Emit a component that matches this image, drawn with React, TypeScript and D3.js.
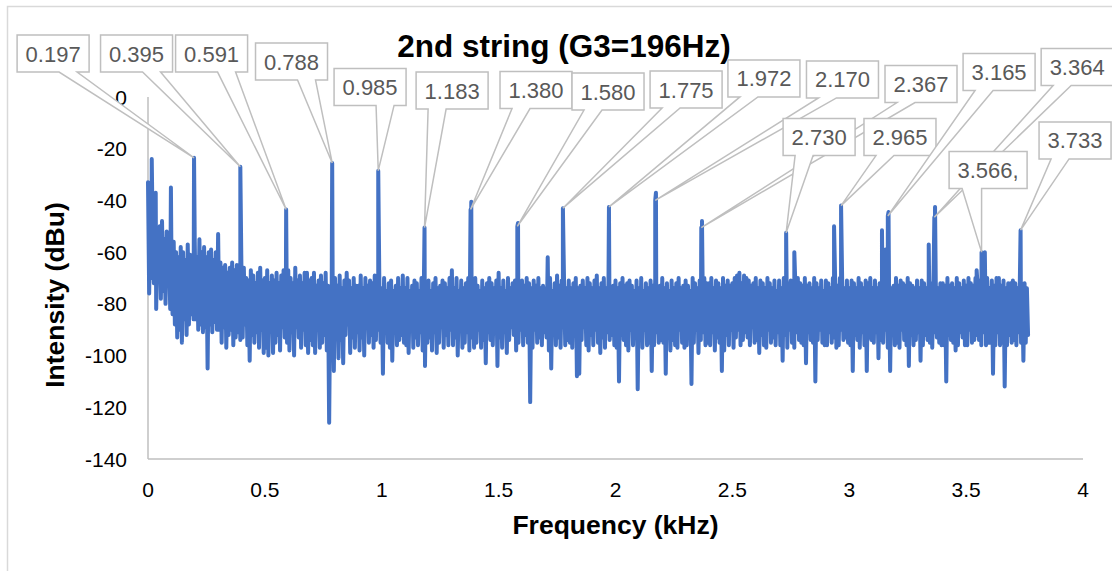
import React from 'react';
import * as d3 from 'd3';

// spectrum: one upper and one lower sample per 0.01 kHz bin,
// upper at the bin start, lower half a bin later
const binKHz = 0.01;
const upperDb = [
  -33, -40, -52, -45, -55, -50, -48, -55, -52, -58,
  -58, -56, -60, -62, -58, -60, -63, -57, -61, -62,
  -56, -62, -55, -60, -58, -62, -60, -59, -63, -60,
  -53, -64, -66, -65, -68, -66, -64, -67, -65, -68,
  -69, -66, -70, -71, -67, -69, -72, -68, -66, -71,
  -70, -67, -72, -69, -71, -68, -72, -69, -67, -72,
  -67, -70, -72, -66, -71, -69, -72, -68, -68, -71,
  -70, -68, -73, -71, -69, -72, -68, -73, -74, -72,
  -70, -73, -69, -74, -71, -68, -71, -74, -70, -73,
  -73, -69, -74, -70, -73, -71, -72, -69, -71, -74,
  -74, -70, -75, -72, -71, -75, -73, -70, -74, -69,
  -74, -70, -75, -73, -71, -72, -75, -70, -74, -72,
  -71, -75, -72, -70, -74, -73, -71, -72, -74, -70,
  -67, -74, -70, -75, -71, -74, -72, -70, -73, -74,
  -70, -73, -75, -71, -74, -72, -70, -72, -74, -71,
  -68, -74, -71, -75, -70, -74, -72, -71, -73, -74,
  -71, -73, -70, -72, -74, -71, -73, -70, -74, -73,
  -74, -62, -70, -75, -72, -69, -73, -71, -72, -74,
  -71, -74, -72, -70, -74, -73, -71, -74, -70, -72,
  -74, -71, -69, -74, -72, -70, -74, -71, -74, -73,
  -71, -74, -72, -70, -73, -72, -71, -73, -75, -71,
  -74, -70, -75, -72, -74, -71, -73, -70, -74, -73,
  -70, -74, -72, -75, -71, -74, -72, -70, -74, -73,
  -71, -73, -75, -70, -72, -74, -71, -74, -70, -72,
  -72, -70, -74, -71, -72, -74, -70, -73, -71, -73,
  -72, -70, -69, -68, -72, -69, -70, -71, -73, -72,
  -70, -74, -71, -72, -74, -70, -72, -74, -71, -75,
  -71, -74, -70, -74, -72, -71, -72, -74, -70, -72,
  -73, -70, -73, -72, -74, -70, -72, -74, -71, -75,
  -71, -72, -74, -70, -72, -73, -70, -73, -74, -71,
  -74, -71, -72, -74, -70, -72, -74, -71, -72, -70,
  -74, -71, -74, -72, -70, -74, -72, -71, -74, -73,
  -70, -73, -71, -72, -73, -70, -72, -73, -74, -71,
  -74, -71, -72, -74, -70, -72, -74, -71, -74, -72,
  -72, -73, -70, -73, -72, -74, -70, -72, -74, -71,
  -73, -70, -72, -73, -70, -74, -71, -71, -72, -70,
  -74, -71, -73, -70, -70, -73, -71, -74, -72, -72,
  -71, -72, -74, -70, -75, -72, -74,
];
const lowerDb = [
  -76, -70, -72, -82, -65, -78, -75, -80, -70, -82,
  -84, -88, -93, -90, -95, -86, -92, -88, -84, -86,
  -86, -90, -88, -91, -89, -105, -88, -91, -87, -90,
  -90, -95, -89, -97, -92, -90, -96, -93, -91, -94,
  -93, -88, -96, -102, -92, -95, -91, -97, -90, -99,
  -97, -100, -90, -99, -95, -92, -98, -89, -93, -95,
  -98, -91, -100, -89, -93, -97, -90, -96, -99, -94,
  -96, -99, -89, -97, -95, -92, -98, -126, -95, -106,
  -90, -101, -94, -103, -92, -88, -99, -93, -97, -91,
  -98, -93, -100, -89, -95, -92, -97, -94, -90, -95,
  -107, -91, -95, -97, -102, -89, -96, -94, -92, -95,
  -96, -99, -90, -97, -93, -96, -91, -98, -104, -95,
  -93, -98, -91, -99, -95, -89, -97, -92, -96, -90,
  -96, -93, -100, -89, -97, -95, -91, -98, -93, -97,
  -95, -90, -97, -94, -103, -91, -94, -96, -89, -104,
  -93, -97, -91, -99, -94, -89, -92, -98, -95, -90,
  -96, -92, -95, -118, -97, -90, -95, -93, -96, -91,
  -93, -98, -105, -90, -96, -93, -97, -89, -96, -94,
  -95, -97, -90, -108, -107, -94, -89, -96, -98, -92,
  -96, -90, -95, -99, -93, -97, -91, -94, -92, -96,
  -97, -110, -92, -94, -96, -98, -90, -96, -93, -113,
  -94, -97, -90, -96, -95, -106, -96, -91, -95, -94,
  -95, -107, -91, -98, -94, -96, -97, -90, -95, -97,
  -96, -92, -111, -95, -90, -99, -94, -91, -96, -95,
  -96, -91, -98, -93, -95, -106, -98, -92, -96, -90,
  -97, -93, -90, -96, -94, -91, -93, -96, -89, -95,
  -94, -99, -92, -96, -97, -90, -95, -93, -96, -91,
  -96, -102, -92, -97, -90, -95, -97, -91, -94, -95,
  -96, -103, -91, -94, -95, -110, -94, -90, -95, -96,
  -96, -91, -95, -93, -97, -96, -90, -94, -93, -95,
  -96, -106, -92, -94, -97, -91, -96, -106, -93, -94,
  -95, -91, -101, -94, -95, -90, -97, -106, -92, -96,
  -95, -97, -90, -94, -96, -104, -92, -96, -94, -91,
  -102, -96, -92, -94, -95, -97, -91, -93, -95, -96,
  -96, -110, -92, -94, -95, -98, -96, -91, -93, -96,
  -96, -90, -95, -94, -92, -94, -96, -91, -96, -95,
  -95, -107, -96, -91, -96, -95, -112, -96, -92, -95,
  -94, -96, -91, -95, -102, -95, -92,
];

// unlabelled spikes
const extraPeakKHz = [0.016, 0.033, 0.098, 1.383, 1.583, 2.173, 2.37, 2.765, 2.935, 3.14, 3.155, 3.168, 3.34, 3.367, 3.545, 3.58];
const extraPeakDb = [-24, -37, -35, -40.5, -48.7, -37, -48, -60, -50, -51.5, -59, -44.5, -57, -42.5, -67, -60];

// labelled harmonics
const harmonicKHz = [0.197, 0.395, 0.591, 0.788, 0.985, 1.183, 1.38, 1.58, 1.775, 1.972, 2.17, 2.367, 2.73, 2.965, 3.165, 3.364, 3.566, 3.733];
const harmonicDb = [-23.5, -27, -43.5, -25.5, -28.5, -50.5, -43.5, -50, -43, -42.5, -40, -50.5, -52.5, -42, -46, -46.5, -60, -51.5];
const harmonicLabels = ['0.197', '0.395', '0.591', '0.788', '0.985', '1.183', '1.380', '1.580', '1.775', '1.972', '2.170', '2.367', '2.730', '2.965', '3.165', '3.364', '3.566,', '3.733'];
// where each callout box sits (centre, in axis units)
const labelKHz = [-0.406, -0.049, 0.272, 0.614, 0.95, 1.301, 1.66, 1.968, 2.302, 2.635, 2.971, 3.307, 2.871, 3.217, 3.641, 3.975, 3.594, 3.966];
const labelDb = [16.8, 16.8, 16.8, 13.7, 3.9, 2.5, 2.7, 2.1, 2.9, 7.2, 6.8, 5.0, -15.5, -15.5, 9.7, 11.6, -28.2, -16.8];

const xTicks = [0, 0.5, 1, 1.5, 2, 2.5, 3, 3.5, 4];
const yTicks = [0, -20, -40, -60, -80, -100, -120, -140];

const W = 1112, H = 571;
const FONT = 'Liberation Sans, Arial, sans-serif';

// Excel style wedge callout (rectangle with a pointer)
function calloutPath(cx: number, cy: number, w: number, h: number, tx: number, ty: number) {
  const l = cx - w / 2, t = cy - h / 2, r = cx + w / 2, b = cy + h / 2;
  const dx = tx - cx, dy = ty - cy;
  const dq = dx * h / w;
  const vertical = Math.abs(dy) - Math.abs(dq) > 0;
  if (vertical) {
    const x1 = l + w * (dx > 0 ? 7 : 2) / 12, x2 = l + w * (dx > 0 ? 10 : 5) / 12;
    if (dy > 0) return `M${l},${t}H${r}V${b}H${x2}L${tx},${ty}L${x1},${b}H${l}Z`;
    return `M${l},${t}H${x1}L${tx},${ty}L${x2},${t}H${r}V${b}H${l}Z`;
  }
  const y1 = t + h * (dy > 0 ? 7 : 2) / 12, y2 = t + h * (dy > 0 ? 10 : 5) / 12;
  if (dx > 0) return `M${l},${t}H${r}V${y1}L${tx},${ty}L${r},${y2}V${b}H${l}Z`;
  return `M${l},${t}H${r}V${b}H${l}V${y2}L${tx},${ty}L${l},${y1}Z`;
}

export default function App() {
  const x = d3.scaleLinear().domain([0, 4]).range([148, 1083]);
  const y = d3.scaleLinear().domain([-140, 0]).range([459, 97]);

  const pts: [number, number][] = [];
  upperDb.forEach((v, i) => {
    pts.push([i * binKHz, v]);
    pts.push([i * binKHz + binKHz / 2, lowerDb[i]]);
  });
  extraPeakKHz.forEach((f, i) => pts.push([f, extraPeakDb[i]]));
  harmonicKHz.forEach((f, i) => pts.push([f, harmonicDb[i]]));
  pts.sort((a, b) => a[0] - b[0]);

  const line = d3.line<[number, number]>().x(d => x(d[0])).y(d => y(d[1]));

  return (
    <svg width={W} height={H} style={{ position: 'absolute', left: 0, top: 0, background: '#fff' }}>
      <rect x={7.5} y={6.5} width={W + 20} height={H + 20} fill="#fff" stroke="#d9d9d9" strokeWidth={1.5} />

      <text x={564} y={57} textAnchor="middle" fontFamily={FONT} fontWeight="bold" fontSize={31.5} fill="#000">
        2nd string (G3=196Hz)
      </text>

      {/* axes */}
      <line x1={x(0)} x2={x(0)} y1={y(0)} y2={y(-140)} stroke="#bfbfbf" strokeWidth={1.5} />
      <line x1={x(0)} x2={x(4)} y1={y(-140)} y2={y(-140)} stroke="#bfbfbf" strokeWidth={1.5} />
      {yTicks.map(t => (
        <text key={t} x={127} y={y(t) + 7.5} textAnchor="end" fontFamily={FONT} fontSize={21} fill="#000">{t}</text>
      ))}
      {xTicks.map(t => (
        <text key={t} x={x(t)} y={497} textAnchor="middle" fontFamily={FONT} fontSize={21} fill="#000">{t}</text>
      ))}
      <text x={x(2)} y={534} textAnchor="middle" fontFamily={FONT} fontWeight="bold" fontSize={26.5} fill="#000">Frequency (kHz)</text>
      <text transform="translate(64,295) rotate(-90)" textAnchor="middle" fontFamily={FONT} fontWeight="bold" fontSize={26.5} fill="#000">Intensity (dBu)</text>

      <path d={line(pts) || ''} fill="none" stroke="#4472c4" strokeWidth={4} strokeLinejoin="round" strokeLinecap="round" />

      {harmonicLabels.map((lab, i) => {
        const cx = x(labelKHz[i]), cy = y(labelDb[i]);
        const w = lab.endsWith(',') ? 78 : 72, h = 37;
        return (
          <g key={lab}>
            <path d={calloutPath(cx, cy, w, h, x(harmonicKHz[i]), y(harmonicDb[i]))} fill="#fff" stroke="#bfbfbf" strokeWidth={1.5} strokeLinejoin="miter" />
            <text x={cx} y={cy + 8} textAnchor="middle" fontFamily={FONT} fontSize={22} fill="#595959">{lab}</text>
          </g>
        );
      })}
    </svg>
  );
}
